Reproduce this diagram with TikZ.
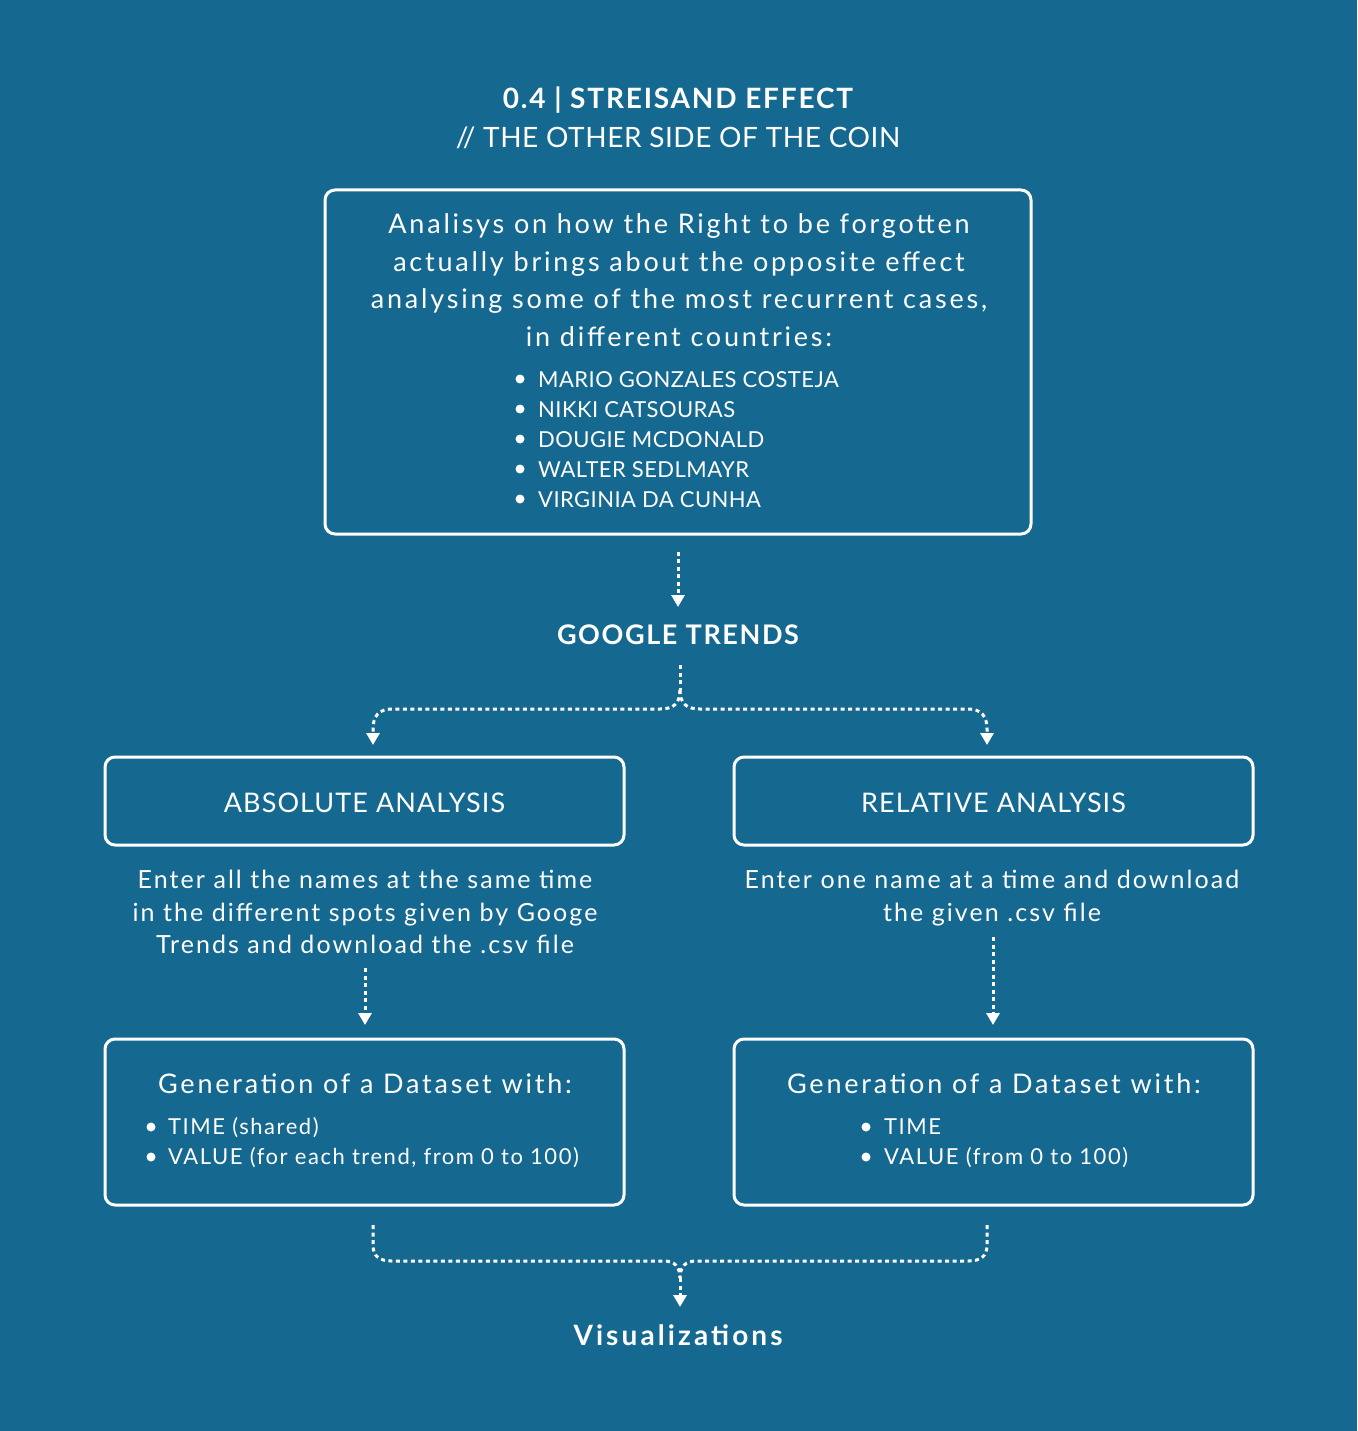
\documentclass[tikz,border=0pt]{standalone}
\usepackage{fontspec}
\setmainfont{Lato}
\usetikzlibrary{arrows.meta}
\definecolor{bg}{RGB}{21,105,144}
\newcommand{\ls}[1]{\addfontfeatures{LetterSpace=#1}}
\begin{document}
\begin{tikzpicture}[x=1pt,y=-1pt,
  box/.style={draw=white,line width=3pt,rounded corners=10pt,minimum width=519pt},
  dline/.style={white,line width=3pt,dash pattern=on 4pt off 3.5pt},
  flow/.style={dline,-{Triangle[width=13pt,length=12pt]}},
  txt/.style={text=white,inner sep=0pt,align=center},
  big/.style={font=\fontsize{27}{37.5}\selectfont\ls{10.3}},
  head/.style={font=\fontsize{27}{37.5}\selectfont\ls{4}},
  mid/.style={font=\fontsize{25}{32.5}\selectfont\ls{8.3}},
  capslist/.style={font=\fontsize{22}{30}\selectfont\ls{2}},
  small/.style={font=\fontsize{22}{30}\selectfont\ls{7}},
  boldt/.style={font=\bfseries\fontsize{27}{34}\selectfont\ls{6}},
  dot/.style={fill=white}
]
\fill[bg] (0,0) rectangle (1357,1431);
\useasboundingbox (0,0) rectangle (1357,1431);

% titles
\node[txt,font=\bfseries\fontsize{28}{34}\selectfont\ls{6.5}] (title) at (678,100) {0.4 | STREISAND EFFECT};
\node[txt,font=\fontsize{28}{34}\selectfont\ls{2}] (sub) at (678,138) {// THE OTHER SIDE OF THE COIN};

% top box
\node[box,minimum width=706pt,minimum height=344pt] (top) at (678,362) {};
\node[txt,big] (intro) at (679,280) {Analisys on how the Right to be forgotten\\actually brings about the opposite effect\\analysing some of the most recurrent cases,\\in different countries:};
\node[txt,capslist,align=left,anchor=west] (cases) at (538,440) {MARIO GONZALES COSTEJA\\NIKKI CATSOURAS\\DOUGIE MCDONALD\\WALTER SEDLMAYR\\VIRGINIA DA CUNHA};
\foreach \yy in {379,409,439,469,499} \fill[dot] (520,\yy) circle (4.5pt);

% google trends
\node[txt,boldt] (gt) at (678,635) {GOOGLE TRENDS};
\coordinate (gtin) at (678,607);
\draw[flow,shorten <=16pt] (top.south) -- (gtin);

% split
\coordinate (gtout) at (680,665);
\coordinate (j1) at (680,690);
\coordinate (al) at (373,745);
\coordinate (ar) at (987,745);
\draw[dline] (gtout) -- (j1);
\draw[flow] (j1) .. controls (680,703) and (674,709) .. (660,709) -- (392,709) .. controls (379,709) and (373,716) .. (373,729) -- (al);
\draw[flow] (j1) .. controls (680,703) and (686,709) .. (700,709) -- (968,709) .. controls (981,709) and (987,716) .. (987,729) -- (ar);

% analysis boxes
\node[box,minimum height=88pt] (abs) at (364.5,801) {};
\node[txt,head] (absT) at (364.5,803) {ABSOLUTE ANALYSIS};
\node[box,minimum height=88pt] (rel) at (993.5,801) {};
\node[txt,head] (relT) at (993.5,803) {RELATIVE ANALYSIS};

\node[txt,mid] (absD) at (365,912) {Enter all the names at the same time\\in the different spots given by Googe\\Trends and download the .csv file};
\node[txt,mid] (relD) at (992,898) {Enter one name at a time and download\\the given .csv file};

\coordinate (absDo) at (365,968);
\coordinate (relDo) at (993,937);
\draw[flow,shorten >=14pt] (absDo) -- (365,1039);
\draw[flow,shorten >=14pt] (relDo) -- (993,1039);

% dataset boxes
\node[box,minimum height=166pt] (gen1) at (364.5,1122) {};
\node[box,minimum height=166pt] (gen2) at (993.5,1122) {};
\node[txt,big] (gen1T) at (365,1084) {Generation of a Dataset with:};
\node[txt,big] (gen2T) at (994,1084) {Generation of a Dataset with:};
\node[txt,small,align=left,anchor=west] (gen1L) at (168,1143) {TIME (shared)\\VALUE (for each trend, from 0 to 100)};
\node[txt,small,align=left,anchor=west] (gen2L) at (884,1143) {TIME\\VALUE (from 0 to 100)};
\foreach \yy in {1127,1157} {
  \fill[dot] (151,\yy) circle (4.5pt);
  \fill[dot] (866,\yy) circle (4.5pt);
}

% merge
\coordinate (ml) at (373,1225);
\coordinate (mr) at (987,1225);
\coordinate (j2) at (680,1278);
\coordinate (vin) at (680,1307);
\draw[dline] (ml) -- (373,1245) .. controls (373,1256) and (379,1261) .. (392,1261) -- (664,1261) .. controls (675,1261) and (680,1267) .. (j2);
\draw[dline] (mr) -- (987,1245) .. controls (987,1256) and (981,1261) .. (968,1261) -- (696,1261) .. controls (685,1261) and (680,1267) .. (j2);
\node[txt,font=\bfseries\fontsize{28}{34}\selectfont\ls{11}] (vis) at (678,1335) {Visualizations};
\draw[flow] (j2) -- (vin);
\end{tikzpicture}
\end{document}
